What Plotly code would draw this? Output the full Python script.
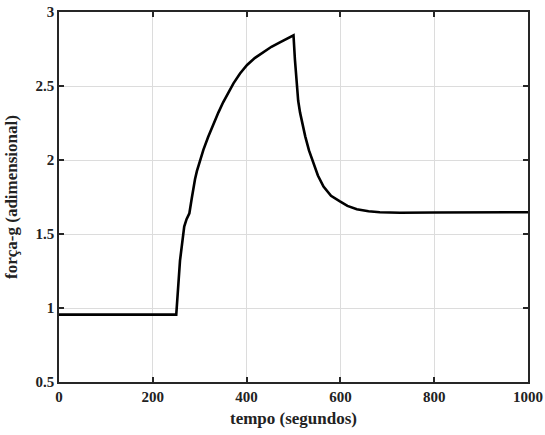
import plotly.graph_objects as go

tempo = [0, 250, 258, 267, 272, 278, 283, 286, 290, 294, 300, 308, 318, 329, 340, 350, 361,
         372, 386, 401, 418, 436, 453, 471, 486, 500,
         503, 507, 510, 514, 519, 525, 533, 542, 552, 564, 580, 599, 615, 635, 660, 684,
         727, 800, 900, 1000]
forca_g = [0.955, 0.955, 1.32, 1.55, 1.60, 1.64, 1.74, 1.80, 1.87, 1.925, 1.995, 2.07,
           2.155, 2.245, 2.322, 2.39, 2.455, 2.518, 2.585, 2.642, 2.69, 2.73, 2.765,
           2.795, 2.82, 2.843,
           2.68, 2.50, 2.40, 2.32, 2.235, 2.16, 2.065, 1.98, 1.895, 1.82, 1.758, 1.72,
           1.69, 1.667, 1.654, 1.647, 1.644, 1.645, 1.646, 1.647]

x_ticks = [0, 200, 400, 600, 800, 1000]
x_labels = ["0", "200", "400", "600", "800", "1000"]
y_ticks = [0.5, 1, 1.5, 2, 2.5, 3]
y_labels = ["0.5", "1", "1.5", "2", "2.5", "3"]

fig = go.Figure()
fig.add_trace(go.Scatter(x=tempo, y=forca_g, mode="lines",
                         line=dict(color="black", width=2.6, shape="linear"),
                         showlegend=False))

font = dict(family="Liberation Serif", size=15, color="#222")
axis_common = dict(
    showline=True, linecolor="#262626", linewidth=1.5, mirror="ticks",
    ticks="inside", ticklen=5, tickwidth=1.5, tickcolor="#262626",
    showgrid=True, gridcolor="#dcdcdc", gridwidth=1, zeroline=False,
    automargin=False,
    tickfont=dict(family="Liberation Serif", size=15, color="#222"),
)
fig.update_layout(
    template="none",
    width=545, height=435,
    margin=dict(l=59, r=17, t=12, b=53),
    paper_bgcolor="white", plot_bgcolor="white",
    font=font,
    xaxis=dict(range=[0, 1000], tickvals=x_ticks,
               ticktext=["<b>%s</b>" % s for s in x_labels], **axis_common,
               title=dict(text="<b>tempo (segundos)</b>", standoff=8,
                          font=dict(family="Liberation Serif", size=17, color="#222"))),
    yaxis=dict(range=[0.5, 3], tickvals=y_ticks,
               ticktext=["<b>%s</b>" % s for s in y_labels], **axis_common,
               title=dict(text="<b>força-g (adimensional)</b>", standoff=14,
                          font=dict(family="Liberation Serif", size=17, color="#222"))),
)
fig.write_html("out.html")
